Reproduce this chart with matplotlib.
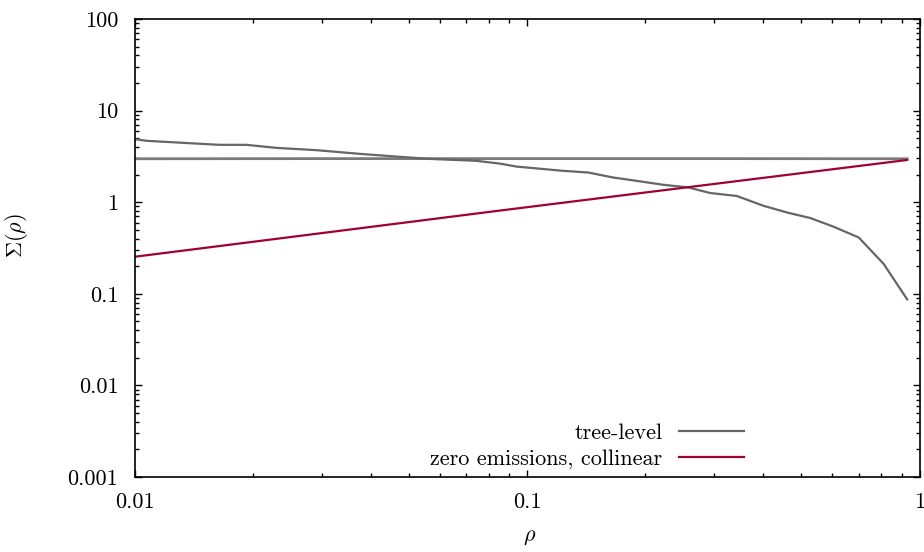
import matplotlib
matplotlib.use("Agg")
import matplotlib.pyplot as plt
from matplotlib.ticker import LogLocator, FixedLocator, FixedFormatter, NullFormatter

plt.rcParams['font.family'] = ['cmr10', 'DejaVu Serif']
plt.rcParams['mathtext.fontset'] = 'cm'
plt.rcParams['axes.formatter.use_mathtext'] = True

# tree-level (declining curve)
rho_tree = [0.01, 0.0107, 0.0164, 0.0192, 0.0229, 0.029, 0.0381, 0.0464, 0.0564,
            0.0741, 0.0851, 0.0938, 0.1234, 0.143, 0.1656, 0.190, 0.222, 0.2574,
            0.2925, 0.342, 0.400, 0.459, 0.527, 0.604, 0.700, 0.811, 0.93]
sigma_tree = [4.88, 4.68, 4.23, 4.23, 3.92, 3.70, 3.35, 3.15, 2.97,
              2.83, 2.64, 2.45, 2.20, 2.11, 1.86, 1.71, 1.55, 1.45,
              1.26, 1.17, 0.914, 0.773, 0.671, 0.540, 0.412, 0.211, 0.087]

# flat gray curve
rho_flat = [0.01, 0.03, 0.1, 0.3, 0.93]
sigma_flat = [2.98, 2.99, 2.99, 2.99, 2.98]

# zero emissions, collinear
rho_coll = [0.01, 0.0851, 0.93]
sigma_coll = [0.254, 0.81, 2.89]

y_ticks = [0.001, 0.01, 0.1, 1, 10, 100]
y_labels = ["0.001", "0.01", "0.1", "1", "10", "100"]
x_ticks = [0.01, 0.1, 1]
x_labels = ["0.01", "0.1", "1"]

W, H = 924, 552
fig = plt.figure(figsize=(W / 100, H / 100), dpi=100)
ax = fig.add_axes([135 / W, 1 - 477 / H, 784.5 / W, 458 / H])

gray = '#666666'
red = '#a0003a'
ax.plot(rho_flat, sigma_flat, color='#7a7a7a', lw=2.0)
ax.plot(rho_tree, sigma_tree, color=gray, lw=1.6, label='tree-level')
ax.plot(rho_coll, sigma_coll, color=red, lw=1.6, label='zero emissions, collinear')

ax.set_xscale('log')
ax.set_yscale('log')
ax.set_xlim(0.01, 1)
ax.set_ylim(0.001, 100)

ax.xaxis.set_major_locator(FixedLocator(x_ticks))
ax.xaxis.set_major_formatter(FixedFormatter(x_labels))
ax.yaxis.set_major_locator(FixedLocator(y_ticks))
ax.yaxis.set_major_formatter(FixedFormatter(y_labels))
ax.xaxis.set_minor_locator(LogLocator(base=10, subs=range(2, 10)))
ax.yaxis.set_minor_locator(LogLocator(base=10, subs=range(2, 10)))
ax.xaxis.set_minor_formatter(NullFormatter())
ax.yaxis.set_minor_formatter(NullFormatter())

fs = 16
ax.tick_params(which='both', direction='in', top=True, right=True,
               labelsize=fs, width=1.0, color='black')
ax.tick_params(which='major', length=5.0)
ax.tick_params(which='minor', length=2.6)
ax.tick_params(axis='y', pad=12)
ax.tick_params(axis='x', pad=11)
for s in ax.spines.values():
    s.set_linewidth(1.2)

# axis labels placed in figure pixels
fig.text(530 / W, 1 - 537 / H, r'$\rho$', fontsize=fs, ha='center', va='center')
fig.text(17 / W, 1 - 236 / H, r'$\Sigma(\rho)$', fontsize=fs, ha='center',
         va='center', rotation=90)

ax.legend(loc='lower right', bbox_to_anchor=(0.790, -0.007), frameon=False,
          markerfirst=False, fontsize=fs, handlelength=2.9, handletextpad=0.75,
          borderpad=0, labelspacing=0.27)

fig.savefig('out.png', dpi=100)
